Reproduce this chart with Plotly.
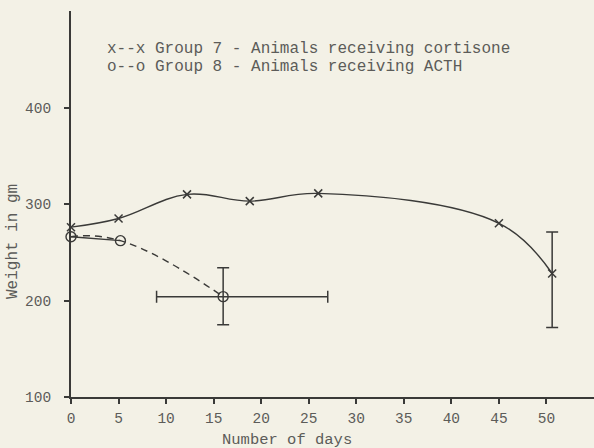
import plotly.graph_objects as go

# Group 7 - cortisone
days_g7 = [0, 5, 12.2, 18.8, 26, 45, 50.6]
weight_g7 = [276, 285, 310, 303, 311, 280, 228]
g7_err_plus = [43]
g7_err_minus = [56]

# Group 8 - ACTH
days_g8 = [0, 5.2, 16]
weight_g8 = [266, 262, 204]
g8_err_plus = [30]
g8_err_minus = [29]
g8_xerr_plus = [11]
g8_xerr_minus = [7]

x_ticks = [0, 5, 10, 15, 20, 25, 30, 35, 40, 45, 50]
y_ticks = [100, 200, 300, 400]

legend_lines = ["x--x Group 7 - Animals receiving cortisone",
                "o--o Group 8 - Animals receiving ACTH"]

INK = "#3a3a38"
TEXT = "#5c5c59"
BG = "#f3f1e6"
FONT = "Liberation Mono"

W, H = 594, 448
L, R, T, B = 71, 0, 11, 51
PW, PH = W - L - R, H - T - B


def px_x(px):
    return (px - L) / PW


def px_y(py):
    return 1 - (py - T) / PH


fig = go.Figure()

fig.add_trace(go.Scatter(
    x=days_g7, y=weight_g7, mode="lines+markers",
    line=dict(color=INK, width=1.4, shape="spline", smoothing=1.1),
    marker=dict(symbol="x-thin-open", size=8, color=INK, line=dict(color=INK, width=1.5)),
    cliponaxis=False, showlegend=False))

fig.add_trace(go.Scatter(
    x=days_g7[-1:], y=weight_g7[-1:], mode="markers",
    marker=dict(size=1, color="rgba(0,0,0,0)"),
    error_y=dict(type="data", symmetric=False, array=g7_err_plus,
                 arrayminus=g7_err_minus, color=INK, thickness=1.5, width=6),
    showlegend=False))

fig.add_trace(go.Scatter(
    x=days_g8, y=weight_g8, mode="lines",
    line=dict(color=INK, width=1.4, shape="spline", smoothing=1.3, dash="7px,5px"),
    cliponaxis=False, showlegend=False))

fig.add_trace(go.Scatter(
    x=days_g8[:2], y=weight_g8[:2], mode="lines",
    line=dict(color=INK, width=1.4),
    cliponaxis=False, showlegend=False))

fig.add_trace(go.Scatter(
    x=days_g8, y=weight_g8, mode="markers",
    marker=dict(symbol="circle-open", size=10, color=INK, line=dict(color=INK, width=1.4)),
    cliponaxis=False, showlegend=False))

fig.add_trace(go.Scatter(
    x=days_g8[-1:], y=weight_g8[-1:], mode="markers",
    marker=dict(size=1, color="rgba(0,0,0,0)"),
    error_y=dict(type="data", symmetric=False, array=g8_err_plus,
                 arrayminus=g8_err_minus, color=INK, thickness=1.5, width=6),
    error_x=dict(type="data", symmetric=False, array=g8_xerr_plus,
                 arrayminus=g8_xerr_minus, color=INK, thickness=1.5, width=6),
    showlegend=False))

for i, line in enumerate(legend_lines):
    fig.add_annotation(
        x=px_x(106), y=px_y(49 + 18 * i), xref="paper", yref="paper", showarrow=False,
        xanchor="left", yanchor="middle", text=line, borderpad=0,
        align="left", font=dict(family=FONT, size=16, color=TEXT))

fig.add_annotation(
    x=px_x(287), y=px_y(440), xref="paper", yref="paper", showarrow=False,
    xanchor="center", yanchor="middle", text="Number of days",
    font=dict(family=FONT, size=15.5, color=TEXT))

fig.add_annotation(
    x=px_x(13), y=px_y(242), xref="paper", yref="paper", showarrow=False,
    xanchor="center", yanchor="middle", text="Weight in gm", textangle=-90,
    font=dict(family=FONT, size=16, color=TEXT))

fig.update_layout(
    width=W, height=H,
    margin=dict(l=L, r=R, t=T, b=B, autoexpand=False),
    paper_bgcolor=BG, plot_bgcolor=BG,
    font=dict(family=FONT, color=TEXT, size=14),
    xaxis=dict(range=[0, 55], tickvals=x_ticks, showgrid=False, zeroline=False,
               showline=True, linecolor=INK, linewidth=2, automargin=False,
               ticks="outside", ticklen=5, tickcolor=INK, tickwidth=1.5,
               ticklabelstandoff=2,
               tickfont=dict(family=FONT, size=14.5, color=TEXT)),
    yaxis=dict(range=[100, 500], tickvals=y_ticks, showgrid=False, zeroline=False,
               showline=True, linecolor=INK, linewidth=2, automargin=False,
               ticks="outside", ticklen=5, tickcolor=INK, tickwidth=1.5,
               ticklabelstandoff=10,
               tickfont=dict(family=FONT, size=14.5, color=TEXT)),
)

fig.write_html(
    "out.html",
    config={"displayModeBar": False},
    post_script="document.body.style.margin='0';document.body.style.padding='0';"
                "document.body.style.overflow='hidden';"
                "document.body.style.background='" + BG + "';")
